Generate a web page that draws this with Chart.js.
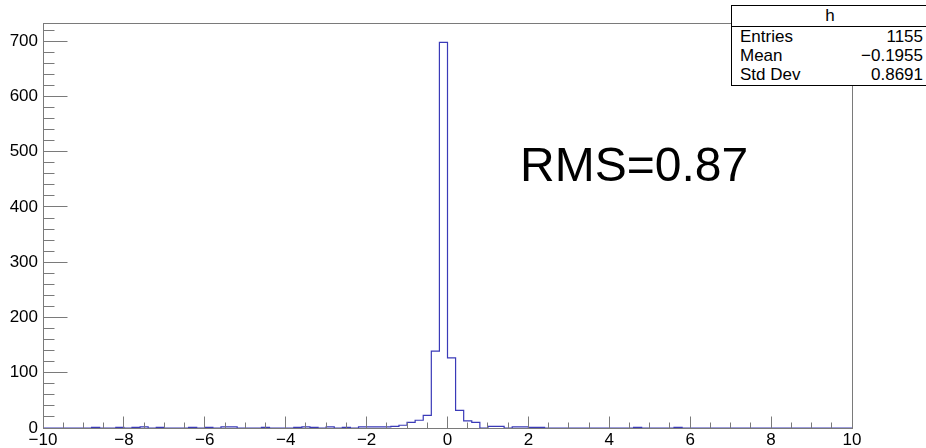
<!DOCTYPE html>
<html>
<head>
<meta charset="utf-8">
<script src="https://cdn.jsdelivr.net/npm/chart.js@4.4.0/dist/chart.umd.min.js"></script>
<style>
  html, body { margin: 0; padding: 0; background: #fff; overflow: hidden; }
  #wrap { position: relative; width: 926px; height: 448px; font-family: "Liberation Sans", Arial, sans-serif; }
  #histo { position: absolute; left: 0; top: 0; }
  #stats { position: absolute; left: 731px; top: 5px; width: 200px; height: 79px; border: 1px solid #000; background: #fff; font-size: 17px; color: #000; }
  #stats .head { position: absolute; left: 0; top: 0; width: 196px; height: 20px; border-bottom: 1px solid #000; text-align: center; line-height: 20px; }
  #stats .row { position: absolute; left: 8px; width: 183px; height: 19px; line-height: 19px; }
  #stats .row span { position: absolute; right: 0; }
  #rms { position: absolute; left: 520px; top: 141px; font-size: 48px; line-height: 48px; color: #000; white-space: nowrap; }
</style>
</head>
<body>
<div id="wrap">
  <canvas id="histo" width="926" height="448"></canvas>
  <div id="stats"></div>
  <div id="rms"></div>
</div>
<script>
// Histogram data: 100 bins of width 0.2 from -10 to 10
const xMin = -10;
const xMax = 10;
const binWidth = 0.2;
const counts = [
    0, 0, 0, 0, 0, 0, 1, 0, 0, 1,
    0, 1, 2, 0, 1, 0, 0, 0, 1, 0,
    1, 0, 2, 2, 0, 0, 0, 1, 0, 0,
    0, 1, 2, 1, 0, 2, 0, 1, 0, 2,
    2, 2, 2, 3, 5, 10, 14, 23, 139, 698,
    127, 32, 13, 10, 0, 3, 3, 0, 2, 2,
    1, 1, 0, 0, 0, 0, 0, 0, 0, 0,
    0, 0, 0, 1, 0, 0, 0, 0, 1, 0,
    0, 0, 0, 0, 0, 0, 0, 0, 0, 0,
    0, 0, 0, 0, 0, 0, 0, 0, 0, 0
];
const yMax = 733;
const xTicks = [-10, -8, -6, -4, -2, 0, 2, 4, 6, 8, 10];
const yTicks = [0, 100, 200, 300, 400, 500, 600, 700];

// Stats box and annotation
const histName = 'h';
const statLabels = ['Entries', 'Mean', 'Std Dev'];
const statValues = ['1155', '\u22120.1955', '0.8691'];
const annotation = 'RMS=0.87';

const stats = document.getElementById('stats');
stats.innerHTML = '<div class="head">' + histName + '</div>' +
    statLabels.map((l, i) =>
        '<div class="row" style="top:' + (21 + i * 19) + 'px">' + l + '<span>' + statValues[i] + '</span></div>'
    ).join('');
document.getElementById('rms').textContent = annotation;

// bin left edges -> step line points
const points = counts.map((c, i) => ({ x: (xMin / binWidth + i) * binWidth, y: c }));
points.push({ x: xMax, y: counts[counts.length - 1] });

const minus = v => String(v).replace('-', '\u2212');

// frame and inward ticks drawn on top of the histogram, like ROOT does
const rootFrame = {
    id: 'rootFrame',
    afterDatasetsDraw(chart) {
        const ctx = chart.ctx;
        const ca = chart.chartArea;
        const xs = chart.scales.x;
        const ys = chart.scales.y;
        const px = v => Math.floor(v) + 0.5;
        ctx.save();
        ctx.strokeStyle = '#7a7a7a';
        ctx.lineWidth = 1;
        ctx.strokeRect(px(ca.left), px(ca.top), Math.round(ca.right - ca.left), Math.round(ca.bottom - ca.top));
        ctx.beginPath();
        for (let k = 0; k <= 40; k++) {
            const v = xMin + k * 0.5;
            const x = px(xs.getPixelForValue(v));
            const len = k % 4 === 0 ? 12 : 6;
            ctx.moveTo(x, px(ca.bottom));
            ctx.lineTo(x, px(ca.bottom) - len);
        }
        for (let v = 0; v <= yMax; v += 20) {
            const y = px(ys.getPixelForValue(v));
            const len = v % 100 === 0 ? 24 : 11;
            ctx.moveTo(px(ca.left), y);
            ctx.lineTo(px(ca.left) + len, y);
        }
        ctx.stroke();
        ctx.restore();
    }
};

const ctx = document.getElementById('histo').getContext('2d');
new Chart(ctx, {
    type: 'line',
    data: {
        datasets: [{
            label: histName,
            data: points,
            borderColor: '#3a3ab8',
            borderWidth: 1.2,
            pointRadius: 0,
            fill: false,
            stepped: true,
            tension: 0
        }]
    },
    options: {
        responsive: false,
        animation: false,
        devicePixelRatio: 1,
        layout: { padding: { left: 0, right: 74, top: 23, bottom: 0 } },
        plugins: { legend: { display: false }, tooltip: { enabled: false } },
        scales: {
            x: {
                type: 'linear',
                min: xMin,
                max: xMax,
                grid: { display: false, drawTicks: false },
                border: { display: false },
                afterBuildTicks: s => { s.ticks = xTicks.map(v => ({ value: v })); },
                ticks: {
                    padding: 2,
                    maxRotation: 0,
                    autoSkip: false,
                    color: '#000',
                    font: { family: '"Liberation Sans", Arial, sans-serif', size: 17 },
                    callback: v => minus(v)
                },
                afterFit: s => { s.height = 20; }
            },
            y: {
                min: 0,
                max: yMax,
                grid: { display: false, drawTicks: false },
                border: { display: false },
                afterBuildTicks: s => { s.ticks = yTicks.map(v => ({ value: v })); },
                ticks: {
                    padding: 5,
                    autoSkip: false,
                    color: '#000',
                    font: { family: '"Liberation Sans", Arial, sans-serif', size: 17 }
                },
                afterFit: s => { s.width = 43; }
            }
        }
    },
    plugins: [rootFrame]
});
</script>
</body>
</html>
